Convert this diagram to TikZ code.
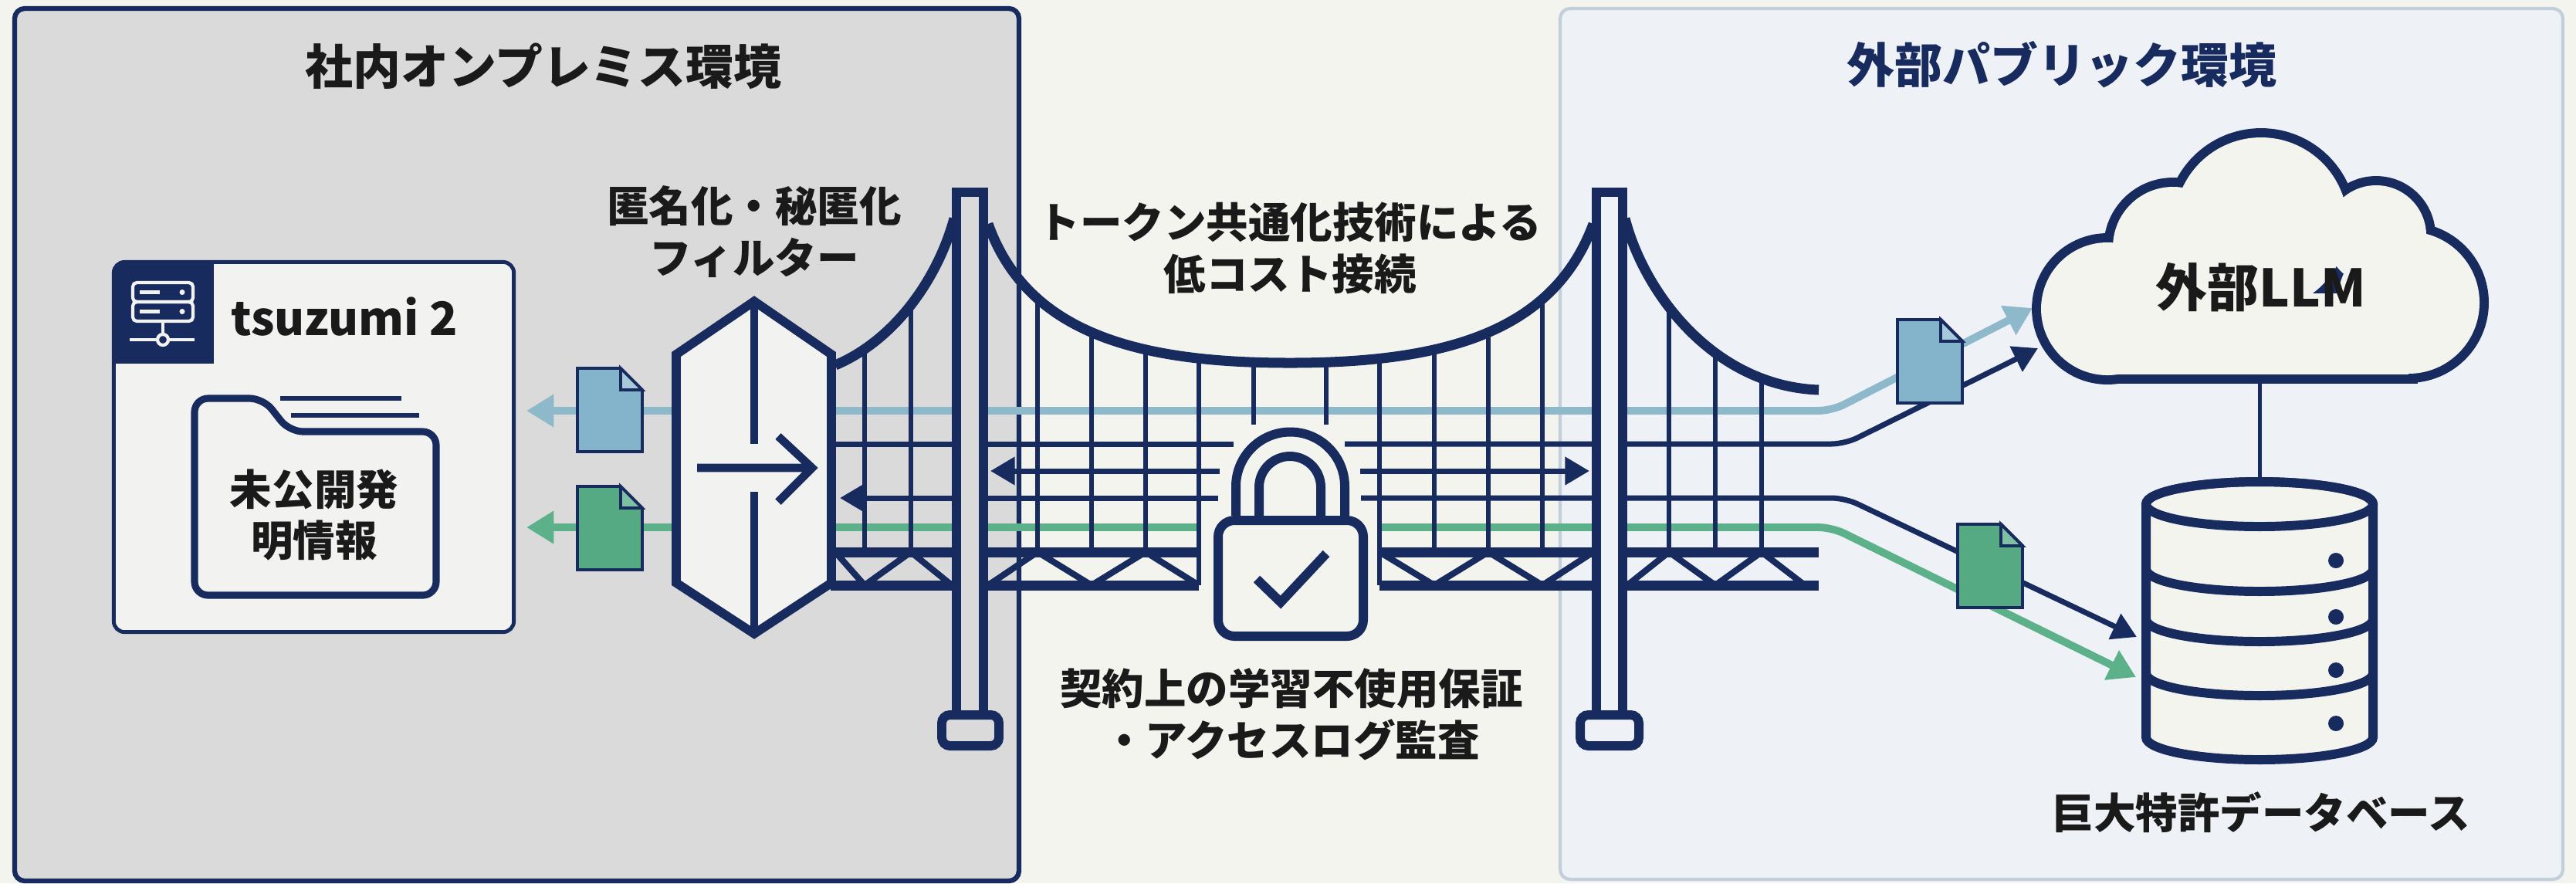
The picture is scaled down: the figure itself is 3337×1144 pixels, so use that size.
\documentclass[tikz,border=0pt]{standalone}
\usepackage{fontspec}
\setmainfont{Noto Sans CJK JP}
\usepackage{tikz}
\usetikzlibrary{arrows.meta,positioning,calc}

\definecolor{navy}{HTML}{182B5E}
\definecolor{ink}{HTML}{1A1A1A}
\definecolor{paper}{HTML}{F4F4EF}
\definecolor{onpremfill}{HTML}{DADADA}
\definecolor{publicfill}{HTML}{EEF2F7}
\definecolor{publicedge}{HTML}{C3CEDB}
\definecolor{cardfill}{HTML}{F2F2F0}
\definecolor{tokenblue}{HTML}{8DB9CA}
\definecolor{docblue}{HTML}{84B4CB}
\definecolor{docbluefold}{HTML}{A8C9D9}
\definecolor{tokengreen}{HTML}{5CB08A}
\definecolor{docgreen}{HTML}{55AA83}
\definecolor{docgreenfold}{HTML}{7EC0A2}

\tikzset{
  br/zone/.style={rounded corners=3.7pt},
  br/title/.style={font=\bfseries\fontsize{17.6}{21}\selectfont},
  br/label/.style={font=\bfseries\fontsize{15.5}{19}\selectfont, align=center, text=ink},
  br/host/.style={draw=navy, fill=cardfill, line width=1.4pt, rounded corners=4pt,
                  minimum width=5.18cm, minimum height=4.79cm, inner sep=0pt},
  br/steel/.style={draw=navy, line width=3.4pt},
  br/cable/.style={navy, line width=3.7pt},
  br/hanger/.style={navy, line width=1.9pt},
  br/lane/.style={navy, line width=2pt},
  br/deck/.style={navy, line width=3.7pt},
  br/truss/.style={navy, line width=2.3pt},
  br/token/.style={line width=2.8pt, rounded corners=5pt},
  br/tip/.style={-{Triangle[length=10pt,width=11.5pt]}},
  br/tips/.style={{Triangle[length=10pt,width=11.5pt]}-{Triangle[length=10pt,width=11.5pt]}},
  br/lanetip/.style={-{Triangle[length=9pt,width=10pt]}},
  pics/docicon/.style 2 args={code={
    \filldraw[fill=#1, draw=navy, line width=1.1pt]
      (-42,-54) -- (14,-54) -- (42,-26) -- (42,54) -- (-42,54) -- cycle;
    \filldraw[fill=#2, draw=navy, line width=1.1pt]
      (14,-54) -- (14,-26) -- (42,-26) -- cycle;
  }}
}

\begin{document}
\begin{tikzpicture}[x=0.01cm, y=-0.01cm]
  \useasboundingbox (0,0) rectangle (3337,1144);
  \fill[paper] (0,0) rectangle (3337,1144);

  % the two zones
  \filldraw[br/zone, fill=onpremfill, draw=navy, line width=1.8pt] (19,11) rectangle (1320,1141);
  \filldraw[br/zone, fill=publicfill, draw=publicedge, line width=1.2pt] (2021,11) rectangle (3320,1139);
  \node[br/title, text=ink] (onpremtitle) at (704,86) {社内オンプレミス環境};
  \node[br/title, text=navy] (publictitle) at (2671,84) {外部パブリック環境};

  % on-prem host
  \node[br/host] (host) at (406.5,579) {};
  \begin{scope}
    \clip[rounded corners=4pt] (147.5,339.5) rectangle (665.5,818.5);
    \fill[navy] (147.5,339.5) rectangle (277,471);
  \end{scope}
  \begin{scope}[draw=cardfill, line width=1.2pt]
    \draw[rounded corners=1.5pt] (172,366) rectangle (250,391);
    \draw[rounded corners=1.5pt] (172,391) rectangle (250,416);
    \draw (181,378.5) -- (207,378.5) (181,403.5) -- (207,403.5);
    \fill[cardfill] (236,378.5) circle[radius=3.5] (236,403.5) circle[radius=3.5];
    \draw (211,416) -- (211,433) (168,440) -- (204,440) (218,440) -- (252,440);
    \draw (211,440) circle[radius=7];
  \end{scope}
  \node[font=\bfseries\fontsize{17}{20}\selectfont, text=ink] (hostname) at (446,410) {tsuzumi 2};

  \draw[navy, line width=2.6pt, rounded corners=5pt, fill=cardfill]
    (252,771) -- (252,516) -- (341,516) -- (375,559) -- (565,559) -- (565,771) -- cycle;
  \draw[navy, line width=1.9pt] (363,516) -- (520,516) (377,538) -- (543,538);
  \node[br/label] (secret) at (407,667) {未公開発\\明情報};

  % end points on the public side
  \coordinate (llmin) at (2633,399);
  \coordinate (llmin2) at (2640,451);
  \coordinate (dbin) at (2768,825);
  \coordinate (dbin2) at (2767,877);
  \node[inner sep=0pt, minimum width=2.01cm, minimum height=4.29cm] (filter) at (977,605.5) {};

  % token flows
  \draw[br/token, tokenblue, br/tips, shorten <=0.14cm]
    (host.east |- 0,532) -- (2373,532) -- (llmin);
  \draw[br/token, tokengreen, br/tip, shorten >=0.14cm] (1553,683) -- (host.east |- 0,683);
  \draw[br/token, tokengreen, br/tip] (1787,683) -- (2373,683) -- (dbin2);

  % lanes across the deck
  \draw[br/lane] (filter.east |- 0,575) -- (1598,575);
  \draw[br/lane, br/lanetip, rounded corners=5pt] (1742,575) -- (2390,575) -- (llmin2);
  \draw[br/lane, br/lanetip] (1580,610) -- (1283,610);
  \draw[br/lane, br/lanetip] (1762,610) -- (2059,610);
  \draw[br/lane, br/lanetip] (1578,645) -- (1088,645);
  \draw[br/lane, br/lanetip, rounded corners=5pt] (1763,645) -- (2390,645) -- (dbin);

  % hangers, kept under the main cables
  \begin{scope}
    \clip (1082,473) .. controls (1160,440) and (1215,360) .. (1236,283) -- (1236,800) -- (1082,800) -- cycle;
    \foreach \hx in {1120,1180}
      \draw[br/hanger] (\hx,200) -- (\hx,715);
  \end{scope}
  \begin{scope}
    \clip (1280,290) .. controls (1330,430) and (1470,470) .. (1671,470)
      .. controls (1872,470) and (2012,430) .. (2064,290) -- (2064,800) -- (1280,800) -- cycle;
    \foreach \hx in {1344,1414,1484,1858,1928,1998}
      \draw[br/hanger] (\hx,200) -- (\hx,715);
    \foreach \hx in {1553,1787}
      \draw[br/hanger] (\hx,200) -- (\hx,758);
    \foreach \hx in {1624,1718}
      \draw[br/hanger] (\hx,200) -- (\hx,550);
  \end{scope}
  \begin{scope}
    \clip (2105,283) .. controls (2130,380) and (2220,500) .. (2356,505) -- (2356,800) -- (2105,800) -- cycle;
    \foreach \hx in {2162,2222,2282}
      \draw[br/hanger] (\hx,200) -- (\hx,715);
  \end{scope}

  % deck and truss
  \draw[br/deck] (1076,715) -- (1553,715) (1076,758) -- (1553,758)
                 (1787,715) -- (2356,715) (1787,758) -- (2356,758);
  \draw[br/truss] (1082,715) -- (1120,758) -- (1180,715) -- (1233,758);
  \draw[br/truss] (1280,758) -- (1344,715) -- (1414,758) -- (1484,715) -- (1553,758);
  \draw[br/truss] (1787,715) -- (1858,758) -- (1928,715) -- (1998,758) -- (2064,715);
  \draw[br/truss] (2108,758) -- (2162,715) -- (2222,758) -- (2282,715) -- (2338,758);

  % main cables
  \draw[br/cable] (1082,473) .. controls (1160,440) and (1215,360) .. (1236,283);
  \draw[br/cable] (1280,290) .. controls (1330,430) and (1470,470) .. (1671,470)
    .. controls (1872,470) and (2012,430) .. (2064,290);
  \draw[br/cable] (2105,283) .. controls (2130,380) and (2220,500) .. (2356,505);

  % towers
  \filldraw[br/steel, fill=onpremfill] (1239,249) rectangle (1274,926);
  \filldraw[br/steel, fill=onpremfill, rounded corners=3pt] (1220,966) -- (1220,926) -- (1294,926) -- (1294,966) -- cycle;
  \filldraw[br/steel, fill=publicfill] (2068,249) rectangle (2102,926);
  \filldraw[br/steel, fill=publicfill, rounded corners=3pt] (2047,966) -- (2047,926) -- (2123,926) -- (2123,966) -- cycle;

  % filter gate
  \filldraw[navy, line width=3.3pt, fill=cardfill]
    (filter.north) -- (1077,459) -- (1077,755) -- (filter.south) -- (876,755) -- (876,459) -- cycle;
  \draw[navy, line width=2.7pt] (filter.north) -- (977,575) (977,637) -- (filter.south);
  \draw[navy, line width=3pt] (903,606) -- (1052,606) (1008,565) -- (1052,606) -- (1008,650);
  \node[br/label] (filterlabel) at (977,300) {匿名化・秘匿化\\フィルター};

  % padlock
  \draw[navy, line width=3.4pt] (1601,668) -- (1601,630) arc[start angle=180, end angle=360, radius=70.5] -- (1742,668);
  \draw[navy, line width=3.4pt] (1631,668) -- (1631,631) arc[start angle=180, end angle=360, radius=40] -- (1711,668);
  \filldraw[navy, line width=3.4pt, fill=paper, rounded corners=6pt] (1578,674) rectangle (1766,824);
  \draw[navy, line width=3.4pt] (1628,750) -- (1659,780) -- (1718,717);

  % documents
  \pic at (790,531) {docicon={docblue}{docbluefold}};
  \pic at (790,684) {docicon={docgreen}{docgreenfold}};
  \pic at (2500,468) {docicon={docblue}{docbluefold}};
  \pic at (2578,733) {docicon={docgreen}{docgreenfold}};

  % cloud: stroke every puff, then fill them all over the inner halves
  \foreach \cx/\cy/\rr in {2730/400/86, 2815/320/78, 2929/290/112, 3078/305/65, 3120/392/92}
    \draw[navy, line width=6.8pt] (\cx,\cy) circle[radius=\rr];
  \draw[navy, line width=6.8pt] (2730,380) rectangle (3120,485);
  \foreach \cx/\cy/\rr in {2730/400/86, 2815/320/78, 2929/290/112, 3078/305/65, 3120/392/92}
    \fill[paper] (\cx,\cy) circle[radius=\rr];
  \fill[paper] (2730,380) rectangle (3120,485);
  \node[font=\bfseries\fontsize{19}{22}\selectfont, text=ink] (llm) at (2929,372) {外部LLM};

  % database
  \coordinate (cloudbase) at (2927,490);
  \coordinate (dbtop) at (2927,624);
  \draw[navy, line width=1.4pt] (cloudbase) -- (dbtop);
  \filldraw[navy, line width=3.4pt, fill=paper]
    (2780,653) -- (2780,955) arc[start angle=180, end angle=0, x radius=147, y radius=29]
    -- (3074,653) arc[start angle=0, end angle=-180, x radius=147, y radius=29] -- cycle;
  \draw[navy, line width=3.4pt] (2927,653) ellipse[x radius=147, y radius=29];
  \foreach \by in {737,802,872}
    \draw[navy, line width=3.4pt] (2780,\by) arc[start angle=180, end angle=0, x radius=147, y radius=29];
  \foreach \dy in {726,799,868,937}
    \fill[navy] (3026,\dy) circle[radius=10];
  \node[br/label] (dblabel) at (2929,1052) {巨大特許データベース};

  % captions on the bridge
  \node[br/label] (costlabel) at (1671,321) {トークン共通化技術による\\低コスト接続};
  \node[br/label] (locklabel) at (1673,925) {契約上の学習不使用保証\\・アクセスログ監査};
\end{tikzpicture}
\end{document}
